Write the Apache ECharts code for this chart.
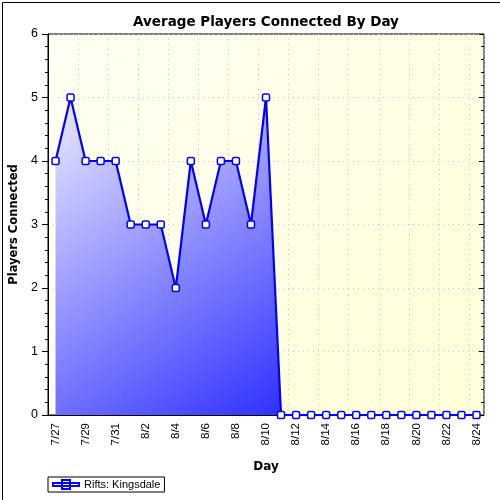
<!DOCTYPE html>
<html><head><meta charset="utf-8">
<script src="https://cdn.jsdelivr.net/npm/echarts@6/dist/echarts.min.js"></script>
<style>html,body{margin:0;padding:0;background:#fff}#c{width:500px;height:500px}</style>
</head><body><div id="c"></div>
<script>
const days = ['7/27','7/28','7/29','7/30','7/31','8/1','8/2','8/3','8/4','8/5','8/6','8/7','8/8','8/9','8/10','8/11','8/12','8/13','8/14','8/15','8/16','8/17','8/18','8/19','8/20','8/21','8/22','8/23','8/24'];
const players = [4,5,4,4,4,3,3,3,2,4,3,4,4,3,5,0,0,0,0,0,0,0,0,0,0,0,0,0,0];
const yTicks = [0,1,2,3,4,5,6];
const seriesName = 'Rifts: Kingsdale';

const chart = echarts.init(document.getElementById('c'));
const font = '"DejaVu Sans", Verdana, sans-serif';
const font2 = '"Liberation Sans", Arial, sans-serif';
chart.setOption({
  animation: false,
  backgroundColor: '#fff',
  title: {
    text: 'Average Players Connected By Day',
    left: 261, top: 10, textAlign: 'center',
    textStyle: { fontSize: 13.5, fontWeight: 'bold', color: '#000', fontFamily: font }
  },
  graphic: [{
    type: 'rect', left: 0, top: 0, z: 100, silent: true,
    shape: { x: 0.5, y: 0.5, width: 499, height: 499 },
    style: { fill: 'none', stroke: '#000', lineWidth: 1 }
  }],
  legend: {
    left: 48, top: 477, orient: 'horizontal',
    borderColor: '#000', borderWidth: 1, padding: [2, 4, 2, 4],
    itemWidth: 26, itemHeight: 9, itemGap: 4,
    textStyle: { fontSize: 11, color: '#000', fontFamily: font2 },
    data: [{ name: seriesName, icon: 'path://M0,3 L26,3 L26,6 L0,6 Z M9,0 L17,0 L17,9 L9,9 Z' }]
  },
  grid: {
    left: 48, top: 34, right: 16, bottom: 85, show: true,
    outerBoundsMode: 'none', containLabel: false,
    borderColor: '#000', borderWidth: 1,
    backgroundColor: new echarts.graphic.LinearGradient(0, 0, 1, 1, [
      { offset: 0, color: '#fffff4' }, { offset: 1, color: '#ffffd8' }
    ])
  },
  xAxis: [{
    type: 'category', data: days, boundaryGap: true,
    name: 'Day', nameLocation: 'middle', nameGap: 46,
    nameTextStyle: { fontSize: 12, fontWeight: 'bold', color: '#000', fontFamily: font },
    axisLine: { lineStyle: { color: '#000', width: 1 } },
    axisTick: { alignWithLabel: true, interval: 0, length: 4, lineStyle: { color: '#000' } },
    axisLabel: { interval: 1, rotate: 90, fontSize: 11.5, color: '#000', fontFamily: font2, margin: 8 },
    splitLine: { show: true, interval: 1, lineStyle: { color: '#c8c8c8', type: [1, 4] } }
  }, {
    type: 'category', data: days, boundaryGap: true, position: 'top',
    axisLine: { show: false },
    axisTick: { inside: true, alignWithLabel: true, interval: 1, length: 4, lineStyle: { color: '#000' } },
    axisLabel: { show: false }, splitLine: { show: false }
  }],
  yAxis: [{
    type: 'value', min: 0, max: 6, interval: 1,
    name: 'Players Connected', nameLocation: 'middle', nameGap: 28,
    nameTextStyle: { fontSize: 11.5, fontWeight: 'bold', color: '#000', fontFamily: font },
    axisLine: { show: true, lineStyle: { color: '#000' } },
    axisTick: { show: true, length: 6, lineStyle: { color: '#000' } },
    minorTick: { show: true, splitNumber: 5, length: 3, lineStyle: { color: '#000' } },
    axisLabel: { fontSize: 12.5, color: '#000', fontFamily: font2, margin: 10,
      customValues: yTicks },
    splitLine: { show: true, lineStyle: { color: '#c8c8c8', type: [1, 4] } }
  }, {
    type: 'value', min: 0, max: 6, interval: 1, position: 'right',
    axisLine: { show: false },
    axisTick: { show: true, inside: true, length: 5, lineStyle: { color: '#000' } },
    minorTick: { show: true, splitNumber: 5, length: 3, lineStyle: { color: '#000' } },
    axisLabel: { show: false }, splitLine: { show: false }
  }],
  series: [{
    name: seriesName, type: 'line', data: players,
    symbol: 'roundRect', symbolSize: 7, showAllSymbol: true,
    itemStyle: { color: '#fff', borderColor: '#0000ff', borderWidth: 1.5 },
    lineStyle: { color: '#0000ff', width: 2.2 },
    areaStyle: {
      color: new echarts.graphic.LinearGradient(55, 97, 280, 415, [
        { offset: 0, color: '#ececff' }, { offset: 1, color: '#3030ff' }
      ], true),
      opacity: 1
    },
    z: 3
  }]
});
</script></body></html>
